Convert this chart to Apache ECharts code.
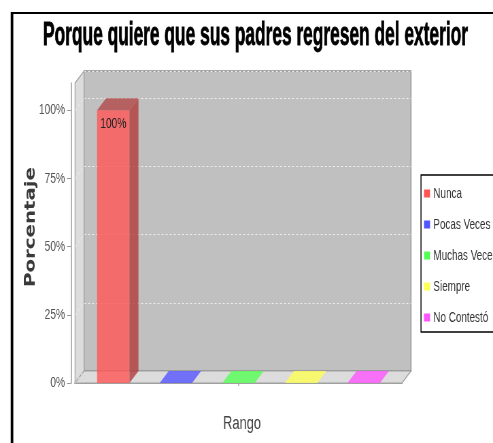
<!DOCTYPE html>
<html>
<head>
<meta charset="utf-8">
<script src="https://cdn.jsdelivr.net/npm/echarts@6/dist/echarts.min.js"></script>
<style>
html,body{margin:0;padding:0;background:#fff;overflow:hidden;width:493px;height:443px;}
#chart{height:443px;transform-origin:0 0;}
</style>
</head>
<body>
<div id="chart"></div>
<script>
// ---- data ----
const titleText = 'Porque quiere que sus padres regresen del exterior';
const yAxisTitle = 'Porcentaje';
const xAxisTitle = 'Rango';
const xCategory = [''];
const categories = ['Nunca', 'Pocas Veces', 'Muchas Veces', 'Siempre', 'No Contestó'];
const values = [1.0, 0, 0, 0, 0];
const yTicks = [0, 0.25, 0.5, 0.75, 1.0];
const tickLabels = ['0%', '25%', '50%', '75%', '100%'];
const palette = ['#ff5555', '#5555ff', '#55ff55', '#ffff55', '#ff55ff'];

// ---- layout: the original chart is horizontally squeezed; draw wide, squeeze with CSS ----
const S = 0.68;
const W = Math.round(493 / S) + 80;   // extra room to the right, hidden by the page edge
const X = v => v / S;
const el = document.getElementById('chart');
el.style.width = W + 'px';
el.style.transform = 'scaleX(' + S + ')';

const FONT = '"Liberation Sans",Arial,sans-serif';
const DX = X(9), DY = -12;
const mctx = document.createElement('canvas').getContext('2d');
function measure(font, text) { mctx.font = font; return mctx.measureText(text).width; }
function hexToRgb(h) { const n = parseInt(h.slice(1), 16); return [(n >> 16) & 255, (n >> 8) & 255, n & 255]; }
function rgba(c, a) { return 'rgba(' + c[0] + ',' + c[1] + ',' + c[2] + ',' + a + ')'; }
function darker(c) { return c.map(v => Math.floor(v * 0.7)); }
function pct(v) {
  for (let i = 0; i < yTicks.length; i++) if (Math.abs(yTicks[i] - v) < 1e-9) return tickLabels[i];
  return Math.round(v * 100) + '%';
}

const titleFont = 'bold 33px ' + FONT;
const yNameFont = 'bold 22px "DejaVu Sans",sans-serif';
const xNameFont = '18px ' + FONT;
const titleScale = X(425) / measure(titleFont, titleText);
const yNameScale = 120 / measure(yNameFont, yAxisTitle);
const xNameScale = X(38) / measure(xNameFont, xAxisTitle);

function renderWalls(params, api) {
  const cs = params.coordSys;
  const L = cs.x, T = cs.y, R = cs.x + cs.width, B = cs.y + cs.height;
  const children = [
    { type: 'polygon', shape: { points: [[L, T], [L + DX, T + DY], [L + DX, B + DY], [L, B]] },
      style: { fill: '#dcdcdc', stroke: '#a0a0a0', lineWidth: 1.2 } },
    { type: 'polygon', shape: { points: [[L, B], [L + DX, B + DY], [R + DX, B + DY], [R, B]] },
      style: { fill: '#dcdcdc', stroke: '#a0a0a0', lineWidth: 1.2 } }
  ];
  yTicks.forEach(v => {
    const y = api.coord([0, v])[1];
    children.push({ type: 'line', shape: { x1: L, y1: y, x2: L + DX, y2: y + DY },
      style: { stroke: '#f2f2f2', lineWidth: 1, lineDash: [3, 3] } });
  });
  return { type: 'group', children };
}

function makeBarRenderer(idx) {
  return function (params, api) {
    const v = api.value(1);
    const band = api.size([1, 0])[0];
    const center = api.coord([0, 0])[0];
    const spacing = band * 0.1915;
    const w = band * 0.099;
    const x0 = center + (idx - 2) * spacing - w / 2;
    const x1 = x0 + w;
    const yb = api.coord([0, 0])[1];
    const yt = api.coord([0, v])[1];
    const base = hexToRgb(palette[idx]);
    const dk = darker(base);
    const children = [];
    if (v > 0) {
      children.push({ type: 'rect', shape: { x: x0, y: yt, width: w, height: yb - yt },
        style: { fill: rgba(base, 0.8) } });
      children.push({ type: 'polygon', shape: { points: [[x1, yt], [x1 + DX, yt + DY], [x1 + DX, yb + DY], [x1, yb]] },
        style: { fill: rgba(dk, 0.8) } });
      children.push({ type: 'polygon', shape: { points: [[x0, yt], [x0 + DX, yt + DY], [x1 + DX, yt + DY], [x1, yt]] },
        style: { fill: rgba(dk, 0.72) } });
      children.push({ type: 'text', x: x0 + w / 2, y: yt + 14,
        style: { text: pct(v), fill: '#222', font: '15px ' + FONT, align: 'center', verticalAlign: 'middle' } });
    } else {
      children.push({ type: 'polygon', shape: { points: [[x0, yt], [x0 + DX, yt + DY], [x1 + DX, yt + DY], [x1, yt]] },
        style: { fill: rgba(base, 0.8) } });
    }
    return { type: 'group', children };
  };
}

const chart = echarts.init(el, null, { renderer: 'canvas', width: W, height: 443 });

const series = [{
  type: 'custom', name: '_walls', xAxisIndex: 0, yAxisIndex: 0, z: 1, silent: true,
  renderItem: renderWalls, data: [[0, 0]]
}];
categories.forEach((c, i) => {
  series.push({
    type: 'custom', name: c, xAxisIndex: 0, yAxisIndex: 0, z: 3, silent: true,
    itemStyle: { color: palette[i] },
    renderItem: makeBarRenderer(i),
    data: [[0, values[i]]]
  });
});

chart.setOption({
  animation: false,
  backgroundColor: '#ffffff',
  graphic: [
    { type: 'line', shape: { x1: X(12), y1: 12, x2: X(12), y2: 460 },
      style: { stroke: '#000', lineWidth: 3.8 }, z: 100 },
    { type: 'line', shape: { x1: X(11), y1: 13, x2: W + 20, y2: 13 },
      style: { stroke: '#000', lineWidth: 2 }, z: 100 },
    { type: 'text', x: X(255.5), y: 36, scaleX: titleScale, z: 100,
      style: { text: titleText, font: titleFont, fill: '#000', stroke: '#000', lineWidth: 0.8,
        align: 'center', verticalAlign: 'middle' } },
    { type: 'text', x: X(31), y: 227, rotation: Math.PI / 2, scaleX: yNameScale, z: 100,
      style: { text: yAxisTitle, font: yNameFont, fill: '#3a3a3a', align: 'center', verticalAlign: 'middle' } },
    { type: 'text', x: X(242), y: 424, scaleX: xNameScale, z: 100,
      style: { text: xAxisTitle, font: xNameFont, fill: '#444', align: 'center', verticalAlign: 'middle' } }
  ],
  legend: {
    data: categories, orient: 'vertical', left: X(421), top: 175,
    padding: [11, 20, 7, X(3)], itemWidth: X(6), itemHeight: 8, itemGap: 16,
    icon: 'rect', selectedMode: false,
    borderColor: '#000', borderWidth: 1.4, backgroundColor: '#fff',
    textStyle: { fontFamily: FONT, fontSize: 14.5, color: '#333', lineHeight: 14 }
  },
  grid: [
    { left: X(75), top: 83, width: X(327), height: 300, containLabel: false },
    { left: X(84), top: 71, width: X(327), height: 300, containLabel: false, show: true,
      backgroundColor: '#c0c0c0', borderColor: '#8c8c8c', borderWidth: 1.3 }
  ],
  xAxis: [
    { gridIndex: 0, type: 'category', data: xCategory, offset: 6,
      axisLine: { show: true, lineStyle: { color: '#a0a0a0', width: 2 } },
      axisTick: { show: true, alignWithLabel: true, length: 3, lineStyle: { color: '#a0a0a0', width: 1.5 } },
      axisLabel: { show: false }, splitLine: { show: false } },
    { gridIndex: 1, type: 'category', data: xCategory, show: false }
  ],
  yAxis: [
    { gridIndex: 0, type: 'value', min: 0, max: 1.1, interval: 0.25, offset: X(4),
      axisLine: { show: true, lineStyle: { color: '#999', width: 1.5 } },
      axisTick: { show: true, length: X(4), customValues: yTicks, lineStyle: { color: '#999' } },
      axisLabel: { show: true, customValues: yTicks, formatter: v => pct(v), margin: X(6),
        fontFamily: FONT, fontSize: 15, color: '#555' },
      splitLine: { show: false } },
    { gridIndex: 1, type: 'value', min: 0, max: 1.1, interval: 0.25,
      axisLine: { show: false }, axisTick: { show: false }, axisLabel: { show: false },
      splitLine: { show: true, lineStyle: { color: '#eeeeee', width: 1, type: [3, 3] } } }
  ],
  series
});
</script>
</body>
</html>
